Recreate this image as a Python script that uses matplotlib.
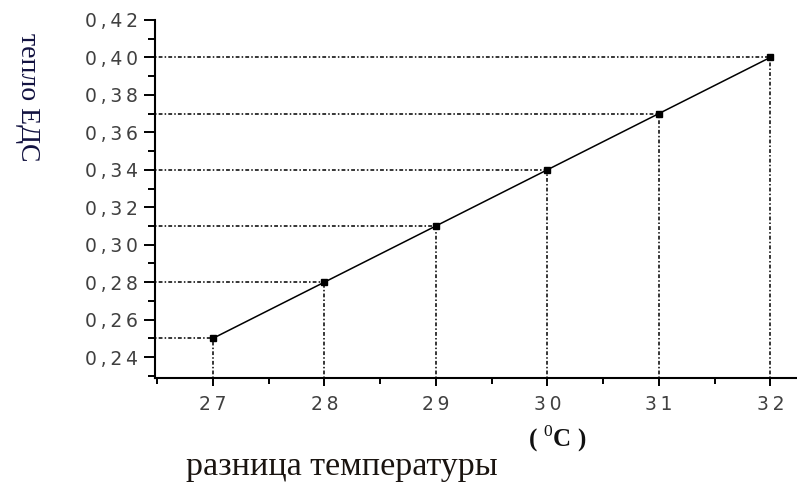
import matplotlib.pyplot as plt
from matplotlib.ticker import MultipleLocator, FuncFormatter

plt.rcParams['mathtext.fontset'] = 'custom'
plt.rcParams['mathtext.rm'] = 'Liberation Serif'
plt.rcParams['mathtext.bf'] = 'Liberation Serif:bold'

# данные
temp_diff = [27, 28, 29, 30, 31, 32]
emf = [0.25, 0.28, 0.31, 0.34, 0.37, 0.40]

fig = plt.figure(figsize=(7.97, 4.91), dpi=100)
fig.patch.set_facecolor('white')
ax = fig.add_axes([0.1945, 0.2301, 0.8055, 0.7292])

ax.set_xlim(26.48, 32.24)
ax.set_ylim(0.2288, 0.42)

# пунктирные линии к осям
dots = (0, (1, 1.4, 2.5, 1.4))
for x, y in zip(temp_diff, emf):
    ax.plot([ax.get_xlim()[0], x], [y, y], color='black', lw=1.1, linestyle=dots)
    ax.plot([x, x], [ax.get_ylim()[0], y], color='black', lw=1.1, linestyle=dots)

ax.plot(temp_diff, emf, color='black', lw=1.1, marker='s', markersize=5,
        clip_on=False, zorder=3)

for side in ['top', 'right']:
    ax.spines[side].set_visible(False)
for side in ['left', 'bottom']:
    ax.spines[side].set_linewidth(1.5)

sp = '\u2009'
ax.xaxis.set_major_locator(MultipleLocator(1))
ax.xaxis.set_minor_locator(MultipleLocator(0.5))
ax.xaxis.set_major_formatter(FuncFormatter(lambda v, p: sp.join(f'{v:.0f}')))
ax.yaxis.set_major_locator(MultipleLocator(0.02))
ax.yaxis.set_minor_locator(MultipleLocator(0.01))
ax.yaxis.set_major_formatter(
    FuncFormatter(lambda v, p: sp.join(f'{v:.2f}'.replace('.', ','))))

ax.tick_params(axis='y', which='major', direction='out', length=8, width=1.4,
               labelsize=13.5, labelcolor='#404040', pad=4)
ax.tick_params(axis='y', which='minor', direction='out', length=5, width=1.4)
ax.tick_params(axis='x', which='major', direction='out', length=6, width=1.4,
               labelsize=13.5, labelcolor='#404040', pad=6)
ax.tick_params(axis='x', which='minor', direction='out', length=4, width=1.4)

fig.text(0.034, 0.802, 'тепло ЕДС', rotation=270, ha='center', va='center',
         fontsize=20, family='Liberation Serif', color='#121240')
fig.text(0.700, 0.107, r'$\mathbf{(}\;^{0}\mathbf{C}\;\mathbf{)}$', ha='center',
         va='center', fontsize=18, color='#111111')
fig.text(0.4295, 0.05, 'разница температуры', ha='center', va='center',
         fontsize=24.5, family='Liberation Serif', color='#1a1410')

fig.savefig('out.png', dpi=100)
